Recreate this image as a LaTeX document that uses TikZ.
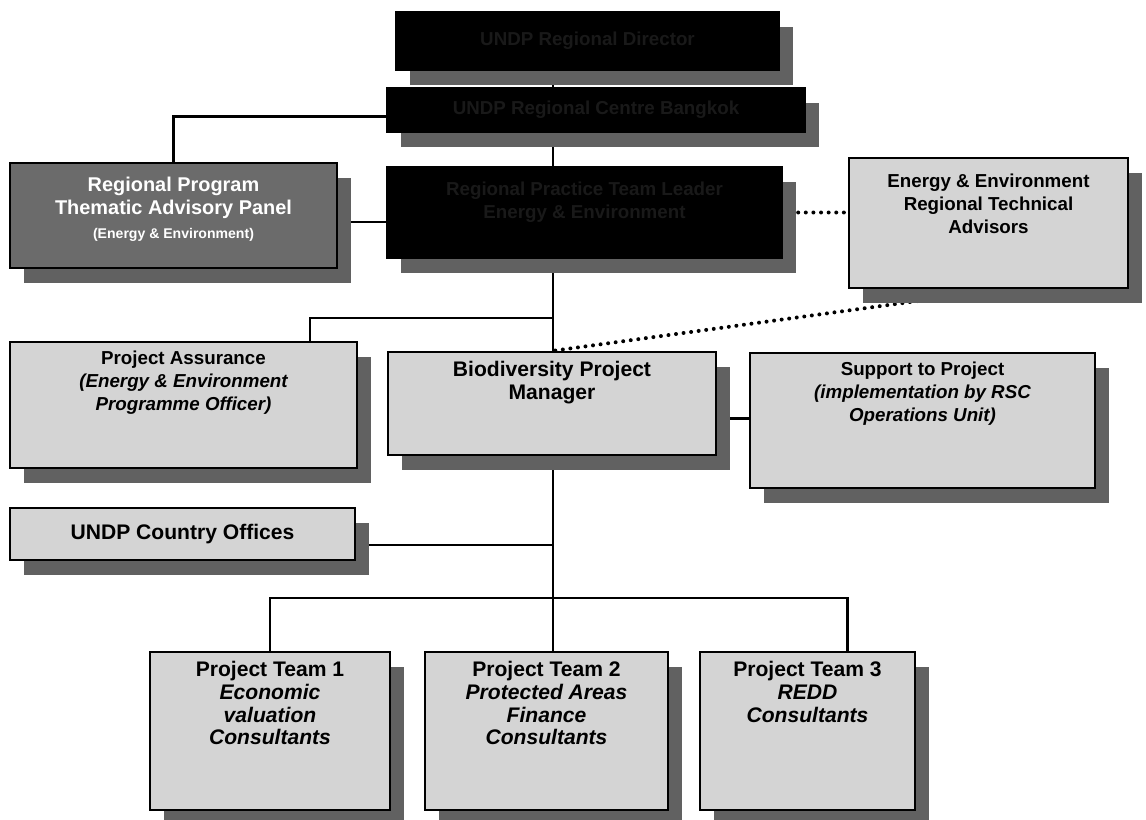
\documentclass[tikz,border=0pt]{standalone}
\usepackage{fontspec}
\setmainfont{Liberation Sans}
\usetikzlibrary{shadows,backgrounds}

\tikzset{
  box/.style={draw=black, line width=2pt,
    drop shadow={shadow xshift=0.43cm, shadow yshift=-0.45cm, fill=black!62, opacity=1}},
  darkbox/.style={box, fill=black},
  midbox/.style={box, fill=black!58},
  lightbox/.style={box, fill=black!17},
  boxtext/.style={align=center, font=\fontsize{16}{19.5}\selectfont\bfseries, inner sep=0pt},
  bigtext/.style={boxtext, font=\fontsize{18}{19.5}\selectfont\bfseries},
  darktext/.style={boxtext, text=black!90!white},
  link/.style={line width=2pt},
  dotlink/.style={line width=3.4pt, line cap=round, dash pattern=on 0pt off 6.5pt}
}

\begin{document}
\begin{tikzpicture}[x=0.03cm, y=-0.03cm]
  \useasboundingbox (0,0) rectangle (1146,820);
  % boxes
  \node[darkbox, minimum width=11.49cm, minimum height=1.74cm] (exec) at (587.5,41) {};
  \node[darktext] (exectxt) at (exec) {UNDP Regional Director};
  \node[darkbox, minimum width=12.54cm, minimum height=1.32cm] (centre) at (596,110) {};
  \node[darktext] (centretxt) at (centre) {UNDP Regional Centre Bangkok};
  \node[darkbox, minimum width=11.85cm, minimum height=2.73cm] (board) at (584.5,212.5) {};
  \node[darktext] (boardtxt) at ([yshift=0.3cm]board) {Regional Practice Team Leader\\Energy \& Environment};
  \node[midbox, minimum width=9.81cm, minimum height=3.15cm] (panel) at (173.5,215.5) {};
  \node[boxtext, text=white, anchor=north, font=\fontsize{17}{20}\selectfont\bfseries] (paneltxt) at ([yshift=-0.45cm]panel.north) {Regional Program\\Thematic Advisory Panel\\{\fontsize{12}{14}\selectfont(Energy \& Environment)}};
  \node[lightbox, minimum width=8.37cm, minimum height=3.9cm] (rta) at (988.5,223) {};
  \node[boxtext, anchor=north] (rtatxt) at ([yshift=-0.5cm]rta.north) {Energy \& Environment\\Regional Technical\\Advisors};
  \node[lightbox, minimum width=10.41cm, minimum height=3.78cm] (assure) at (183.5,405) {};
  \node[boxtext, anchor=north] (assuretxt) at ([yshift=-0.3cm]assure.north) {Project Assurance\\\itshape (Energy \& Environment\\\itshape Programme Officer)};
  \node[lightbox, minimum width=9.84cm, minimum height=3.09cm] (manager) at (552,403.5) {};
  \node[bigtext, anchor=north] (managertxt) at ([yshift=-0.3cm]manager.north) {Biodiversity Project\\Manager};
  \node[lightbox, minimum width=10.35cm, minimum height=4.05cm] (support) at (922.5,420.5) {};
  \node[boxtext, anchor=north] (supporttxt) at ([yshift=-0.3cm]support.north) {Support to Project\\\itshape (implementation by RSC\\\itshape Operations Unit)};
  \node[lightbox, minimum width=10.35cm, minimum height=1.56cm] (country) at (182.5,534) {};
  \node[bigtext] (countrytxt) at (country) {UNDP Country Offices};
  \node[lightbox, minimum width=7.2cm, minimum height=4.74cm] (team1) at (270,731) {};
  \node[bigtext, anchor=north] (team1txt) at ([yshift=-0.3cm]team1.north) {Project Team 1\\\itshape Economic\\\itshape valuation\\\itshape Consultants};
  \node[lightbox, minimum width=7.29cm, minimum height=4.74cm] (team2) at (546.5,731) {};
  \node[bigtext, anchor=north] (team2txt) at ([yshift=-0.3cm]team2.north) {Project Team 2\\\itshape Protected Areas\\\itshape Finance\\\itshape Consultants};
  \node[lightbox, minimum width=6.45cm, minimum height=4.74cm] (team3) at (807.5,731) {};
  \node[bigtext, anchor=north] (team3txt) at ([yshift=-0.3cm]team3.north) {Project Team 3\\\itshape REDD\\\itshape Consultants};
  % tap points
  \coordinate (trunk) at (553,0);
  \coordinate (assuretap) at (553,318);
  \coordinate (split) at (553,598);
  \coordinate (rtafoot) at (925,300);
  \begin{scope}[on background layer]
    \draw[link] (exec.south -| trunk) -- (manager.north -| trunk);
    \draw[link] ([yshift=-0.2cm]centre.west) -| (panel.north);
    \draw[link] ([yshift=-0.2cm]panel.east) -- ([yshift=-0.2cm]panel.east -| board.west);
    \draw[dotlink] ([xshift=0.45cm]board.east) -- (board.east -| rta.west);
    \draw[dotlink] (rtafoot) -- (manager.north -| trunk);
    \draw[link] (assuretap) -| ([xshift=3.8cm]assure.north);
    \draw[link] ([yshift=-0.45cm]manager.east) -- ([yshift=-0.45cm]manager.east -| support.west);
    \draw[link] ([yshift=-0.33cm]country.east) -- ([yshift=-0.33cm]country.east -| trunk);
    \draw[link] (manager.south -| trunk) -- (team2.north -| trunk);
    \draw[link] (team1.north) |- (split) -| ([xshift=1.2cm]team3.north);
  \end{scope}
\end{tikzpicture}
\end{document}
